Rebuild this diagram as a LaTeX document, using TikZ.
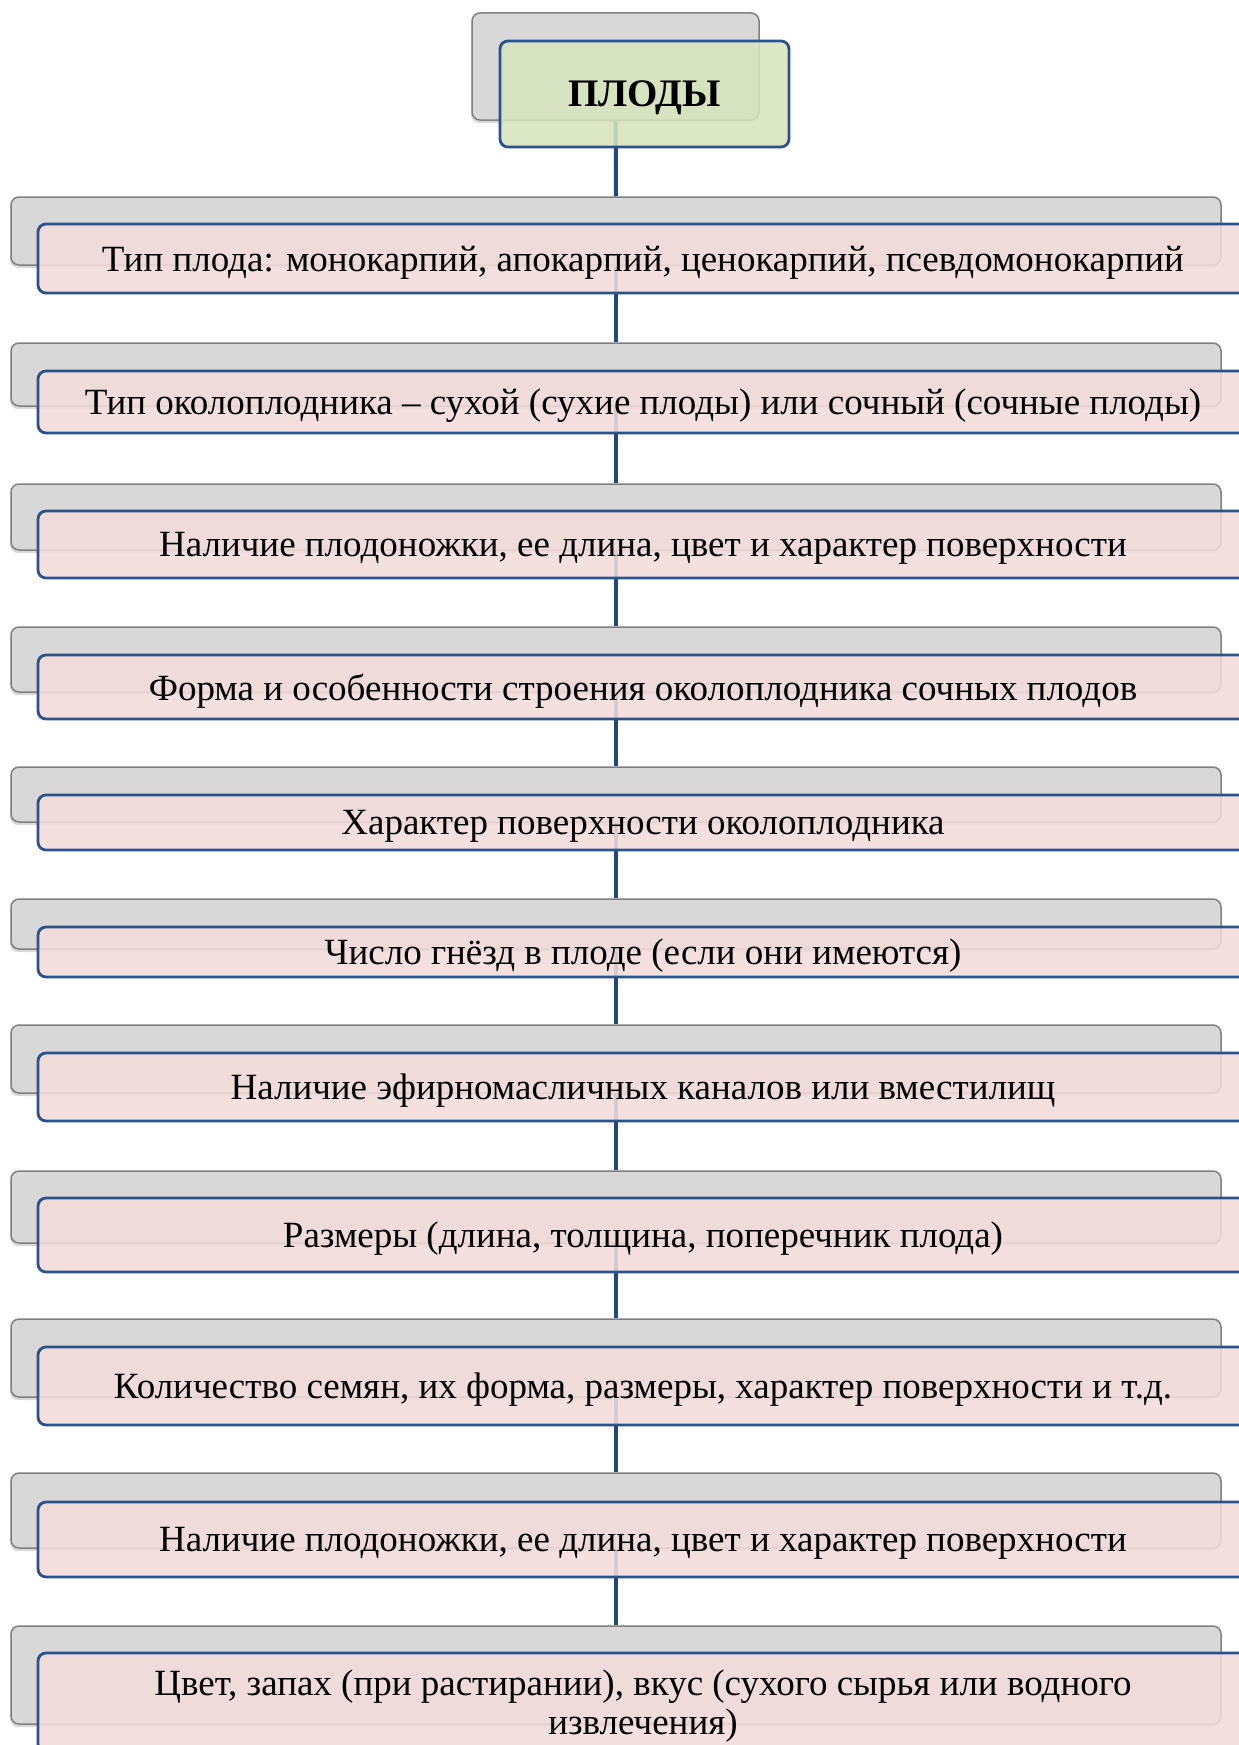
\documentclass[tikz,border=0pt]{standalone}
\usepackage{fontspec}
\setmainfont{Liberation Serif}
\usetikzlibrary{shadows}
\definecolor{grayfill}{RGB}{216,216,216}
\definecolor{grayline}{RGB}{128,128,128}
\definecolor{pinkfill}{RGB}{242,220,219}
\definecolor{greenfill}{RGB}{215,228,189}
\definecolor{blueline}{RGB}{44,82,140}
\definecolor{connline}{RGB}{31,73,125}
\pgfdeclarelayer{bg}
\pgfsetlayers{bg,main}
\begin{document}
\begin{tikzpicture}[x=1pt,y=-1pt,
  back/.style={draw=grayline, line width=1.5pt, fill=grayfill, rounded corners=8pt,
    minimum width=1210pt, inner sep=0pt,
    drop shadow={shadow xshift=-1pt, shadow yshift=-3pt, opacity=0.3}},
  front/.style={draw=blueline, line width=2.8pt, fill=pinkfill, fill opacity=0.88,
    text opacity=1, rounded corners=8pt, minimum width=1210pt, inner sep=0pt,
    text depth=0pt, font=\fontsize{37}{39}\selectfont, align=center},
  conn/.style={draw=connline, line width=4pt}]
\useasboundingbox (0,0) rectangle (1239,1745);
\clip (0,0) rectangle (1239,1745);
% top node
\node[back, minimum width=287pt, minimum height=107pt] (g0) at (615.5,66.5) {};
\node[front, fill=greenfill, minimum width=289pt, minimum height=106pt,
  font=\fontsize{39}{40}\selectfont\bfseries] (p0) at (644.5,94) {ПЛОДЫ};
% back boxes
\node[back, minimum height=68pt] (g1) at (616,231) {};
\node[back, minimum height=63pt] (g2) at (616,374.5) {};
\node[back, minimum height=66pt] (g3) at (616,517) {};
\node[back, minimum height=65pt] (g4) at (616,659.5) {};
\node[back, minimum height=55pt] (g5) at (616,794.5) {};
\node[back, minimum height=50pt] (g6) at (616,924) {};
\node[back, minimum height=68pt] (g7) at (616,1059) {};
\node[back, minimum height=72pt] (g8) at (616,1207) {};
\node[back, minimum height=78pt] (g9) at (616,1358) {};
\node[back, minimum height=75pt] (g10) at (616,1510.5) {};
\node[back, minimum height=98pt] (g11) at (616,1675) {};
% front boxes
\node[front, minimum height=69pt] (p1) at (643,258.5) {Тип плода: монокарпий, апокарпий, ценокарпий, псевдомонокарпий};
\node[front, minimum height=62pt] (p2) at (643,402) {Тип околоплодника – сухой (сухие плоды) или сочный (сочные плоды)};
\node[front, minimum height=67pt] (p3) at (643,544.5) {Наличие плодоножки, ее длина, цвет и характер поверхности};
\node[front, minimum height=64pt] (p4) at (643,687) {Форма и особенности строения околоплодника сочных плодов};
\node[front, minimum height=55pt] (p5) at (643,822.5) {Характер поверхности околоплодника};
\node[front, minimum height=50pt] (p6) at (643,952) {Число гнёзд в плоде (если они имеются)};
\node[front, minimum height=68pt] (p7) at (643,1087) {Наличие эфирномасличных каналов или вместилищ};
\node[front, minimum height=74pt] (p8) at (643,1235) {Размеры (длина, толщина, поперечник плода)};
\node[front, minimum height=78pt] (p9) at (643,1386) {Количество семян, их форма, размеры, характер поверхности и т.д.};
\node[front, minimum height=75pt] (p10) at (643,1539.5) {Наличие плодоножки, ее длина, цвет и характер поверхности};
\node[front, minimum height=99pt] (p11) at (643,1702.5) {Цвет, запах (при растирании), вкус (сухого сырья или водного\\извлечения)};
% connectors
\begin{pgfonlayer}{bg}
\draw[conn] (g0) -- (g1);
\draw[conn] (g1) -- (g2);
\draw[conn] (g2) -- (g3);
\draw[conn] (g3) -- (g4);
\draw[conn] (g4) -- (g5);
\draw[conn] (g5) -- (g6);
\draw[conn] (g6) -- (g7);
\draw[conn] (g7) -- (g8);
\draw[conn] (g8) -- (g9);
\draw[conn] (g9) -- (g10);
\draw[conn] (g10) -- (g11);
\end{pgfonlayer}
\end{tikzpicture}
\end{document}
